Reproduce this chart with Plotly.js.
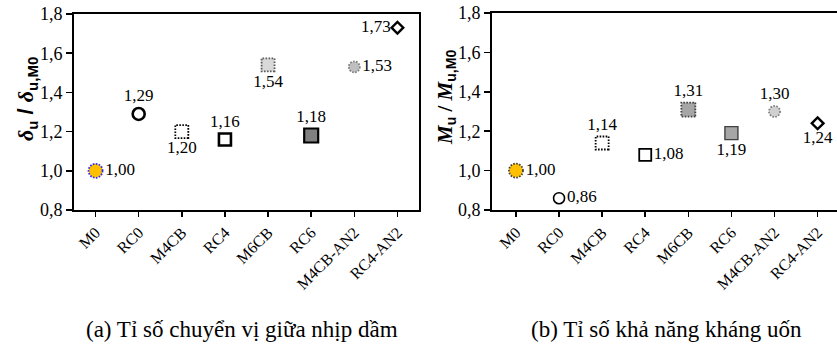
<!DOCTYPE html>
<html>
<head>
<meta charset="utf-8">
<script src="https://cdn.plot.ly/plotly-3.0.1.min.js"></script>
<style>
  html, body { margin: 0; padding: 0; background: #fff; }
  #chart { width: 837px; height: 344px; }
</style>
</head>
<body>
<div id="chart"></div>
<script>
// Specimen names along both category axes
const categories = ['M0', 'RC0', 'M4CB', 'RC4', 'M6CB', 'RC6', 'M4CB-AN2', 'RC4-AN2'];
// (a) mid-span deflection ratio  δu / δu,M0
const deflectionRatio = [1.00, 1.29, 1.20, 1.16, 1.54, 1.18, 1.53, 1.73];
// (b) flexural capacity ratio  Mu / Mu,M0
const momentRatio = [1.00, 0.86, 1.14, 1.08, 1.31, 1.19, 1.30, 1.24];
// Value-axis ticks (comma decimal separator)
const yTickVals = [0.8, 1.0, 1.2, 1.4, 1.6, 1.8];
const yTickText = ['0,8', '1,0', '1,2', '1,4', '1,6', '1,8'];

// Marker styling per specimen
const symbols = ['circle', 'circle', 'square', 'square', 'square', 'square', 'circle', 'diamond'];
const styleA = {
  size:      [14, 12, 13, 12, 13, 14, 11, 9],
  fill:      ['#FFC000', '#ffffff', '#ffffff', '#ffffff', '#d9d9d9', '#808080', '#bfbfbf', '#ffffff'],
  line:      ['#2a2aff', '#000000', '#000000', '#000000', '#595959', '#000000', '#7f7f7f', '#000000'],
  width:     [1.8, 2.6, 1.8, 2.6, 1.8, 2.2, 1.8, 2.4],
  dotted:    [true, false, true, false, true, false, true, false],
  textPos:   ['middle right', 'top center', 'bottom center', 'top center',
              'bottom center', 'top center', 'middle right', 'middle left']
};
const styleB = {
  size:      [14, 11, 13, 12, 14, 13, 11, 9],
  fill:      ['#FFC000', '#ffffff', '#ffffff', '#ffffff', '#a6a6a6', '#a6a6a6', '#d0d0d0', '#ffffff'],
  line:      ['#404040', '#000000', '#000000', '#000000', '#404040', '#404040', '#7f7f7f', '#000000'],
  width:     [1.8, 1.6, 1.8, 1.8, 1.8, 1.4, 1.8, 2.4],
  dotted:    [true, false, true, false, true, false, true, false],
  textPos:   ['middle right', 'middle right', 'top center', 'middle right',
              'top center', 'bottom center', 'top center', 'bottom center']
};

const fmt = v => v.toFixed(2).replace('.', ',');
const serif = 'Liberation Serif';
const W = 837, H = 344;

function makeTrace(values, st, xa, ya) {
  return {
    type: 'scatter', mode: 'markers+text',
    x: categories, y: values,
    xaxis: xa, yaxis: ya,
    text: values.map(fmt),
    textposition: st.textPos,
    textfont: { family: serif, size: 17, color: '#000' },
    marker: {
      symbol: symbols, size: st.size, color: st.fill, opacity: 1,
      line: { color: st.line, width: st.width }
    },
    hoverinfo: 'skip', cliponaxis: false, showlegend: false
  };
}

const xCommon = {
  type: 'category', showgrid: false, zeroline: false,
  showline: true, linecolor: '#000', linewidth: 2,
  ticks: 'outside', ticklen: 5, tickwidth: 1.5, tickcolor: '#000',
  tickangle: -45, tickfont: { family: serif, size: 16, color: '#000' },
  fixedrange: true
};
const yCommon = {
  range: [0.8, 1.8], tickvals: yTickVals, ticktext: yTickText,
  showgrid: false, zeroline: false,
  showline: true, linecolor: '#000', linewidth: 2,
  ticks: 'outside', ticklen: 6, tickwidth: 1.5, tickcolor: '#000',
  tickfont: { family: serif, size: 18, color: '#000' },
  fixedrange: true
};

// subscript in bold sans at a fixed size
const sub = (s, px) => '<sub><span style="font-family:Liberation Sans;font-size:' + px + 'px">' + s + '</span></sub>';
const layout = {
  width: W, height: H,
  margin: { l: 0, r: 0, t: 0, b: 0 },
  paper_bgcolor: '#fff', plot_bgcolor: '#fff',
  xaxis:  Object.assign({}, xCommon, { domain: [74 / W, 419 / W], range: [-0.5, 7.5], anchor: 'y', mirror: true }),
  yaxis:  Object.assign({}, yCommon, { domain: [1 - 210 / H, 1 - 14 / H], anchor: 'x', mirror: true }),
  xaxis2: Object.assign({}, xCommon, { domain: [492 / W, 1], range: [-0.556, 7.45], anchor: 'y2', mirror: true }),
  yaxis2: Object.assign({}, yCommon, { domain: [1 - 210 / H, 1 - 13 / H], anchor: 'x2' }),
  annotations: [
    {
      xref: 'paper', yref: 'paper', x: 27 / W, y: 1 - 99 / H, xanchor: 'center', yanchor: 'middle',
      textangle: -90, showarrow: false,
      text: '<b><i>δ</i>' + sub('u', 15) + '<span style="font-family:Liberation Sans"> / </span><i>δ</i>' + sub('u,M0', 15) + '</b>',
      font: { family: serif, size: 22, color: '#000' }
    },
    {
      xref: 'paper', yref: 'paper', x: 446 / W, y: 1 - 98 / H, xanchor: 'center', yanchor: 'middle',
      textangle: -90, showarrow: false,
      text: '<b><i>M</i>' + sub('u', 14) + ' / <i>M</i>' + sub('u,M0', 14) + '</b>',
      font: { family: serif, size: 21, color: '#000' }
    },
    {
      xref: 'paper', yref: 'paper', x: 242 / W, y: 1 - 329 / H, xanchor: 'center', yanchor: 'middle',
      showarrow: false,
      text: '(a) Tỉ số chuyển vị giữa nhịp dầm',
      font: { family: serif, size: 23, color: '#000' }
    },
    {
      xref: 'paper', yref: 'paper', x: 666 / W, y: 1 - 329 / H, xanchor: 'center', yanchor: 'middle',
      showarrow: false,
      text: '(b) Tỉ số khả năng kháng uốn',
      font: { family: serif, size: 23, color: '#000' }
    }
  ]
};

const data = [
  makeTrace(deflectionRatio, styleA, 'x', 'y'),
  makeTrace(momentRatio, styleB, 'x2', 'y2')
];

Plotly.newPlot('chart', data, layout, { staticPlot: true }).then(gd => {
  // dotted outlines for the carbon-fibre specimens
  const traces = gd.querySelectorAll('.scatterlayer .trace');
  [styleA, styleB].forEach((st, t) => {
    const pts = traces[t].querySelectorAll('path.point');
    pts.forEach((p, i) => {
      if (st.dotted[i]) p.style.strokeDasharray = '1.6px,1.4px';
    });
  });
});
</script>
</body>
</html>
